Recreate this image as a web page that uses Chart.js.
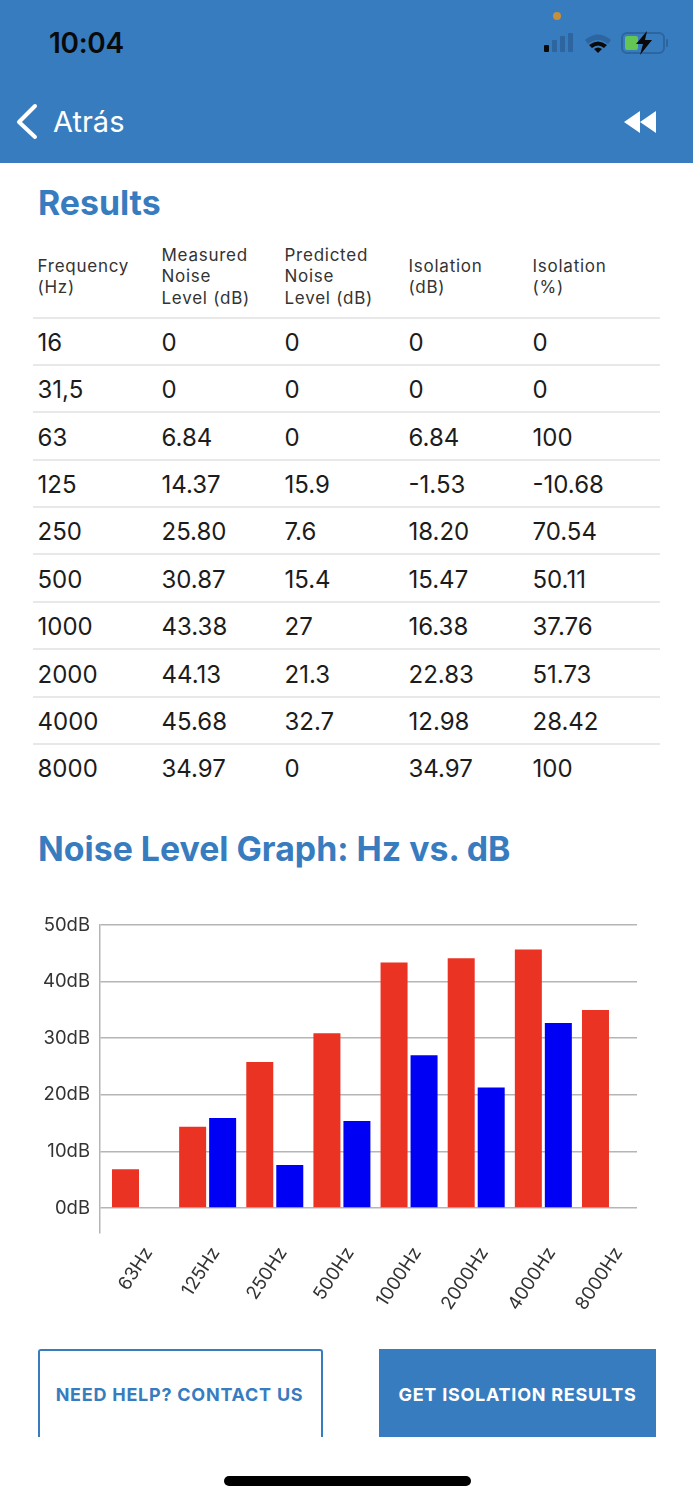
<!DOCTYPE html>
<html><head><meta charset="utf-8">
<script src="https://cdn.jsdelivr.net/npm/chart.js@4/dist/chart.umd.min.js"></script>
<style>
html,body{margin:0;padding:0;background:#fff}
body{position:relative;width:693px;height:1500px;overflow:hidden;font-family:Inter,"Noto Sans",sans-serif;color:#1c1c1c}
.a{position:absolute;white-space:nowrap}
#hdr{left:0;top:0;width:693px;height:163px;background:#387cc0}
.title{font-weight:700;font-size:33.85px;color:#387cc0;left:38px;line-height:40px}
.th{font-size:17px;line-height:21.5px;letter-spacing:.75px;color:#333;white-space:pre}
.td{font-size:24px;line-height:30px;color:#1c1c1c}
.sep{left:33px;width:627px;height:2px;background:#e8e8e8}
.btn{font-weight:700;font-size:18px;letter-spacing:.75px;line-height:20px;text-align:center}
#chartBox{left:0;top:900px;width:693px;height:420px}
</style></head><body>
<div class="a" id="hdr"></div>
<div class="a" style="left:49px;top:26px;font-size:28px;font-weight:600;line-height:34px;color:#0a0a0a;letter-spacing:-.3px">10:04</div>
<div class="a" style="left:553px;top:12px;width:8px;height:8px;border-radius:4px;background:#c58f3c"></div>
<svg class="a" style="left:540px;top:28px" width="130" height="30" viewBox="0 0 130 30">
<rect x="4" y="17" width="5" height="7" rx="1" fill="#0a0a0a"/><rect x="12" y="12" width="5" height="12" rx="1" fill="#2c659f"/><rect x="20" y="8" width="5" height="16" rx="1" fill="#2c659f"/><rect x="28" y="5" width="5" height="19" rx="1" fill="#2c659f"/>
<path d="M45 12 Q58 1 71 12 L68 16 Q58 8 48 16Z" fill="#2c659f"/><path d="M49 17 Q58 10 67 17 L64 20 Q58 15 52 20Z" fill="#0a0a0a"/><path d="M54 21 Q58 18 62 21 L58 25Z" fill="#0a0a0a"/>
<rect x="82" y="5" width="42" height="20" rx="5" fill="none" stroke="#2c659f" stroke-width="2"/><rect x="85" y="8" width="13" height="14" rx="2" fill="#62c554"/><rect x="126" y="11" width="2" height="8" rx="1" fill="#2c659f"/>
<path d="M107 3 L96 16 L103 16 L100 27 L112 12 L105 12Z" fill="#0a0a0a"/></svg>
<svg class="a" style="left:10px;top:100px" width="34" height="44" viewBox="0 0 34 44"><path d="M25 6 L9 22 L25 37" fill="none" stroke="#fff" stroke-width="4" stroke-linecap="round" stroke-linejoin="round"/></svg>
<div class="a" style="left:53px;top:104px;font-size:29px;line-height:36px;color:#fff">Atrás</div>
<svg class="a" style="left:620px;top:109px" width="40" height="26" viewBox="0 0 40 26"><path d="M20 2 V24 L4 13Z M36 2 V24 L20 13Z" fill="#fff"/></svg>
<div class="a title" style="top:183px">Results</div>
<div class="a title" style="top:829px">Noise Level Graph: Hz vs. dB</div>
<div id="tbl"></div>
<div class="a" id="chartBox"><canvas id="c" width="693" height="420" style="width:693px;height:420px;display:block"></canvas></div>
<div class="a" style="left:38px;top:1349px;width:281px;height:86px;border:2px solid #387cc0;border-bottom:none;border-radius:3px 3px 0 0;box-sizing:content-box"></div>
<div class="a btn" style="left:38px;top:1385px;width:283px;color:#387cc0">NEED HELP? CONTACT US</div>
<div class="a btn" style="left:379px;top:1349px;width:277px;height:88px;line-height:92px;background:#387cc0;color:#fff">GET ISOLATION RESULTS</div>
<div class="a" style="left:224px;top:1476px;width:247px;height:10px;border-radius:5px;background:#000"></div>
<script>
const tableHeaders = ["Frequency\n(Hz)","Measured\nNoise\nLevel (dB)","Predicted\nNoise\nLevel (dB)","Isolation\n(dB)","Isolation\n(%)"];
const tableFrequency = ["16","31,5","63","125","250","500","1000","2000","4000","8000"];
const tableMeasured = ["0","0","6.84","14.37","25.80","30.87","43.38","44.13","45.68","34.97"];
const tablePredicted = ["0","0","0","15.9","7.6","15.4","27","21.3","32.7","0"];
const tableIsolationDb = ["0","0","6.84","-1.53","18.20","15.47","16.38","22.83","12.98","34.97"];
const tableIsolationPct = ["0","0","100","-10.68","70.54","50.11","37.76","51.73","28.42","100"];
const categories = ["63Hz","125Hz","250Hz","500Hz","1000Hz","2000Hz","4000Hz","8000Hz"];
const measured = [6.84,14.37,25.80,30.87,43.38,44.13,45.68,34.97];
const predicted = [0,15.9,7.6,15.4,27,21.3,32.7,0];
const yTicks = [0,10,20,30,40,50];

const colX=[37.5,161.5,284.5,408.5,532.5];
const tbl=document.getElementById('tbl');
function add(cls,txt,l,t){const d=document.createElement('div');d.className='a '+cls;d.textContent=txt;d.style.left=l+'px';d.style.top=t+'px';tbl.appendChild(d);}
tableHeaders.forEach((h,i)=>{const n=h.split('\n').length;add('th',h,colX[i],277-n*21.5/2);});
const columns=[tableFrequency,tableMeasured,tablePredicted,tableIsolationDb,tableIsolationPct];
tableFrequency.forEach((_,r)=>{
  const cy=342.8+r*47.4;
  columns.forEach((col,i)=>add('td',col[r],colX[i],cy-15));
  if(r<9) add('sep','',33,cy+21);
});
add('sep','',33,317);

const toPts=a=>a.map((v,i)=>({x:i,y:v}));
new Chart(document.getElementById('c'),{
  type:'bar',
  data:{datasets:[
    {label:'Measured',data:toPts(measured),backgroundColor:'#ea3323',categoryPercentage:.8936,barPercentage:.9},
    {label:'Predicted',data:toPts(predicted),backgroundColor:'#0000f5',categoryPercentage:.8936,barPercentage:.9}
  ]},
  options:{
    responsive:false,animation:false,devicePixelRatio:1,
    layout:{padding:{top:25,right:56,left:0,bottom:0}},
    plugins:{legend:{display:false},tooltip:{enabled:false}},
    scales:{
      x:{type:'linear',offset:false,min:-0.6032,max:7.395,
        grid:{display:false},border:{display:false},
        afterBuildTicks:s=>{s.ticks=categories.map((_,i)=>({value:i}));},
        afterFit:s=>{s.height=87;},
        ticks:{autoSkip:false,minRotation:57,maxRotation:57,padding:2,labelOffset:8,color:'#333',font:{family:'Inter',size:18.5},callback:v=>categories[v]}
      },
      y:{type:'linear',min:-4.4,max:50,
        grid:{color:'#b5b5b5',lineWidth:1.5,drawTicks:false},
        border:{display:true,color:'#b5b5b5',width:1.5},
        afterBuildTicks:s=>{s.ticks=yTicks.map(v=>({value:v}));},
        afterFit:s=>{s.width=100;},
        ticks:{padding:10,color:'#333',font:{family:'Inter',size:18.5},callback:v=>v+'dB'}
      }
    }
  }
});
</script>
</body></html>
